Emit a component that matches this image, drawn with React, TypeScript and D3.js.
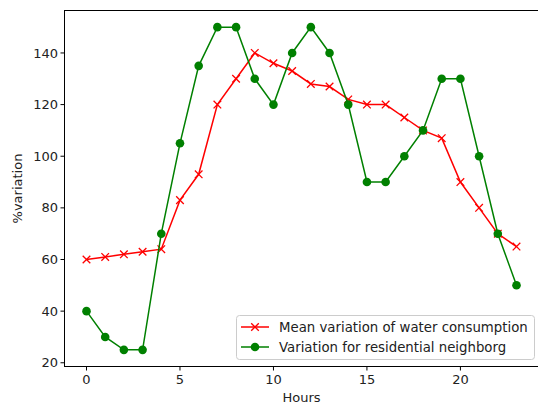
import React from 'react';
import * as d3 from 'd3';

const hours = d3.range(0, 24);
const meanVariation = [60, 61, 62, 63, 64, 83, 93, 120, 130, 140, 136, 133, 128, 127, 122, 120, 120, 115, 110, 107, 90, 80, 70, 65];
const residential = [40, 30, 25, 25, 70, 105, 135, 150, 150, 130, 120, 140, 150, 140, 120, 90, 90, 100, 110, 130, 130, 100, 70, 50];
const xTicks = [0, 5, 10, 15, 20];
const yTicks = [20, 40, 60, 80, 100, 120, 140];
const legendLabels = ['Mean variation of water consumption', 'Variation for residential neighborg'];

const W = 538;
const H = 406;
const margin = { top: 11, right: 0, bottom: 40, left: 65 };
const font = "'DejaVu Sans', sans-serif";
const fs = 13;

export default function App() {
  const x = d3.scaleLinear().domain([-1.15, 24.15]).range([margin.left, W - margin.right]);
  const y = d3.scaleLinear().domain([18.75, 156.25]).range([H - margin.bottom, margin.top]);

  const line = d3.line<number>().x((_, i) => x(hours[i])).y(d => y(d));

  const cross = (cx: number, cy: number, s: number, key: any) => (
    <path key={key} d={`M${cx - s},${cy - s}L${cx + s},${cy + s}M${cx - s},${cy + s}L${cx + s},${cy - s}`}
      stroke="red" strokeWidth={1.3} fill="none" />
  );

  const x0 = margin.left, x1 = W - margin.right, y0 = H - margin.bottom, y1 = margin.top;

  return (
    <svg width={W} height={H} style={{ position: 'absolute', left: 0, top: 0, background: '#fff' }}
      fontFamily={font}>
      <rect x={0} y={0} width={W} height={H} fill="#fff" />
      {/* data */}
      <path d={line(meanVariation) || ''} stroke="red" strokeWidth={1.5} fill="none" />
      {meanVariation.map((v, i) => cross(x(hours[i]), y(v), 3.8, 'r' + i))}
      <path d={line(residential) || ''} stroke="green" strokeWidth={1.5} fill="none" />
      {residential.map((v, i) => (
        <circle key={'g' + i} cx={x(hours[i])} cy={y(v)} r={4.3} fill="green" />
      ))}

      {/* spines */}
      <rect x={x0 - 0.5} y={y1 - 0.5} width={x1 - x0 + 1} height={y0 - y1 + 1} fill="none" stroke="#000" strokeWidth={1} />

      {/* x axis */}
      {xTicks.map(t => (
        <g key={'x' + t} transform={`translate(${x(t)},${y0})`}>
          <line y1={0} y2={4.5} stroke="#000" strokeWidth={1} />
          <text y={18} textAnchor="middle" fontSize={fs} fill="#222">{t}</text>
        </g>
      ))}
      <text x={(x0 + x1) / 2} y={H - 4} textAnchor="middle" fontSize={fs} fill="#222">Hours</text>

      {/* y axis */}
      {yTicks.map(t => (
        <g key={'y' + t} transform={`translate(${x0},${y(t)})`}>
          <line x1={0} x2={-4.5} stroke="#000" strokeWidth={1} />
          <text x={-7} dy="0.35em" textAnchor="end" fontSize={fs} fill="#222">{t}</text>
        </g>
      ))}
      <text transform={`translate(22,${(y0 + y1) / 2}) rotate(-90)`} textAnchor="middle" fontSize={fs} fill="#222">%variation</text>

      {/* legend */}
      <g>
        <rect x={236.5} y={315.5} width={298} height={44} rx={3} fill="#fff" fillOpacity={0.8} stroke="#ccc" strokeWidth={1} />
        <line x1={241} x2={269} y1={327} y2={327} stroke="red" strokeWidth={1.5} />
        {cross(255, 327, 3.8, 'lc')}
        <text x={279} y={327} dy="0.35em" fontSize={13.3} fill="#222">{legendLabels[0]}</text>
        <line x1={241} x2={269} y1={347} y2={347} stroke="green" strokeWidth={1.5} />
        <circle cx={255} cy={347} r={4.3} fill="green" />
        <text x={279} y={347} dy="0.35em" fontSize={13.3} fill="#222">{legendLabels[1]}</text>
      </g>
    </svg>
  );
}
